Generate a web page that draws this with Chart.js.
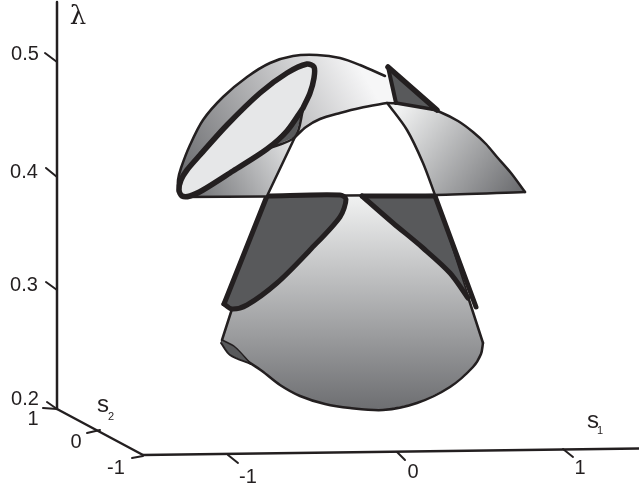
<!DOCTYPE html>
<html lang="en">
<head>
<meta charset="UTF-8">
<title>Bifurcation surface</title>
<script src="https://cdn.jsdelivr.net/npm/chart.js"></script>
<style>
    html, body { margin: 0; padding: 0; background: #fff; }
    canvas { display: block; }
</style>
</head>
<body>
<canvas id="surfaceChart" width="639" height="487"></canvas>
<script>
const lambdaAxis = [[57, 2], [57, 409]];
const s2Axis = [[57, 409], [143, 455]];
const s1Axis = [[143, 455], [639, 448.5]];

const lambdaTicks = [[[45, 53], [57, 62]], [[46, 168], [57, 177]], [[46, 282], [57, 290]], [[47, 402], [57, 409]]];
const s2Ticks = [[[43, 408], [57, 409]], [[87, 433], [100, 430]], [[132, 458], [143, 456]]];
const s1Ticks = [[[228, 455], [238, 463]], [[397, 452], [405, 460]], [[563, 449], [573, 457]]];

const lambdaTickLabels = ['0.5', '0.4', '0.3', '0.2'];
const lambdaLabelAt = [[25, 54], [24, 172], [24, 285], [25, 399]];
const s2TickLabels = ['1', '0', '-1'];
const s2LabelAt = [[33, 419], [76, 442], [116, 468]];
const s1TickLabels = ['-1', '0', '1'];
const s1LabelAt = [[248, 477], [413, 472], [580, 468]];

const topArc = [[178, 192], [178, 180], [181, 168], [190, 145], [203, 120], [223, 97], [247, 77], [270, 63], [293, 56], [317, 55], [340, 58], [360, 65], [385, 76]];
const topLowerEdge = [[295, 137], [306, 127], [320, 119], [340, 113], [360, 108], [387, 103]];
const topRightEdge = [[387, 103], [407, 104], [425, 107], [440, 112], [458, 121], [473, 132], [486, 144], [497, 157], [511, 173], [525, 192]];
const wingInnerEdge = [[435, 195], [423, 163], [407, 130], [388, 104]];
const bandRightEdge = [[295, 137], [267, 196]];
const horizon = [[183, 197], [267, 196.5], [345, 195.5], [435, 195], [525, 192]];

const ellipseLoop = [[303, 108], [287, 131], [267, 149], [233, 171], [203, 190], [190, 196], [182, 196], [179, 190], [181, 180], [187, 170], [200, 155], [227, 125], [260, 93], [287, 73], [307, 64], [314, 67], [314, 78], [310, 93], [303, 108]];
const wedgeEdge = [[303, 110], [295, 137], [267, 149]];

const notchLeft = [[388, 67], [396, 103]];
const notchRight = [[388, 67], [437, 110]];
const notchBottom = [[396, 103], [437, 110]];
const bandToNotch = [[395, 103], [390, 76]];

const coneLeft = [[268, 197], [222, 340]];
const coneBottom = [[222, 341], [240, 356], [262, 371], [280, 385], [300, 396], [325, 404], [350, 408], [383, 410], [417, 403], [450, 387], [473, 367], [481, 354], [483, 343]];
const coneRight = [[483, 343], [435, 195]];

const spotUpper = [[222, 340], [235, 347], [251, 364]];
const spotLower = [[221, 343], [230, 355], [251, 364]];

const leftPatchTop = [[267, 196], [340, 195], [346, 199], [340, 217], [310, 250], [277, 283], [247, 305], [232, 309], [224, 304]];
const leftPatchSide = [[224, 304], [267, 196]];
const rightPatchTop = [[362, 196], [435, 196]];
const rightPatchSide = [[435, 196], [476, 307]];
const rightPatchCurve = [[362, 196], [393, 223], [423, 248], [450, 273], [468, 298]];

const INK = '#231f20';
const DARK = '#58595b';
const THIN = 2.5;
const THICK = 5;

const datasets = [];

function toPoints(list) {
    return list.map(p => ({x: p[0], y: p[1]}));
}

function addEdge(list, width) {
    datasets.push({
        data: toPoints(list),
        borderColor: INK,
        borderWidth: width,
        borderCapStyle: 'round',
        borderJoinStyle: 'round',
        tension: list.length > 2 ? 0.3 : 0,
        fill: false
    });
}

function addFill(edges, color) {
    datasets.push({
        data: toPoints(edges.flat()),
        borderWidth: 0,
        borderColor: 'transparent',
        backgroundColor: color,
        tension: 0,
        fill: 'shape'
    });
}

// diagonal shading, ends given in plot units
function shade(a, b, stops) {
    return ctx => {
        const {chart} = ctx;
        const xs = chart.scales.x, ys = chart.scales.y;
        if (!xs || !ys) return stops[0];
        const ends = [xs.getPixelForValue(a[0]), ys.getPixelForValue(a[1]), xs.getPixelForValue(b[0]), ys.getPixelForValue(b[1])];
        if (!ends.every(Number.isFinite)) return stops[0];
        const g = chart.ctx.createLinearGradient(ends[0], ends[1], ends[2], ends[3]);
        stops.forEach((c, i) => g.addColorStop(i / (stops.length - 1), c));
        return g;
    };
}

// lower cone
addFill([coneLeft, coneBottom, coneRight], shade([0, 195], [0, 410], ['#f1f2f2', '#6d6e71']));
addEdge(coneLeft, THIN);
addEdge(coneBottom, THIN);
addEdge(coneRight, THIN);

addFill([spotUpper, spotLower.slice().reverse()], DARK);
addEdge(spotUpper, 1.5);
addEdge(spotLower, 2);

addFill([leftPatchTop, leftPatchSide], DARK);
addEdge(leftPatchTop, THICK);
addEdge(leftPatchSide, THICK);

addFill([rightPatchTop, rightPatchSide.slice(0, 1), rightPatchCurve.slice().reverse()], DARK);
addEdge(rightPatchTop, THICK);
addEdge(rightPatchSide, THICK);
addEdge(rightPatchCurve, THICK);

// upper surface
addFill([topArc, bandToNotch.slice().reverse(), topLowerEdge.slice().reverse(), ellipseLoop.slice(2, 8)], shade([190, 190], [370, 85], ['#6d6e71', '#f6f6f7']));
addEdge(topArc, THIN);
addEdge(topLowerEdge, THIN);

addFill([ellipseLoop.slice(1, 6), [[267, 196]], bandRightEdge.slice(0, 1)], shade([190, 198], [295, 140], ['#6d6e71', '#e6e7e8']));
addEdge(bandRightEdge, THIN);

addFill([topRightEdge, wingInnerEdge], shade([400, 108], [515, 195], ['#f1f2f2', '#6d6e71']));
addEdge(topRightEdge, THIN);
addEdge(wingInnerEdge, THIN);

addFill([ellipseLoop], '#e6e7e8');
addFill([wedgeEdge], DARK);
addEdge(wedgeEdge, THIN);
addEdge(ellipseLoop, 5.5);

addFill([notchLeft, notchBottom.slice(1)], DARK);
addEdge(notchLeft, 4);
addEdge(notchRight, 5.5);
addEdge(notchBottom, THIN + 1);

addEdge(horizon, THIN);

// axes
addEdge(lambdaAxis, 2.5);
addEdge(s2Axis, 2.5);
addEdge(s1Axis, 2.5);
lambdaTicks.concat(s2Ticks, s1Ticks).forEach(t => addEdge(t, 2));

// later entries have to paint on top
datasets.forEach((d, i) => { d.order = -i; });

const axisText = {
    id: 'axisText',
    afterDraw(chart) {
        const {ctx, scales} = chart;
        const put = (text, at, font) => {
            ctx.font = font;
            ctx.fillText(text, scales.x.getPixelForValue(at[0]), scales.y.getPixelForValue(at[1]));
        };
        ctx.save();
        ctx.fillStyle = INK;
        ctx.textAlign = 'center';
        ctx.textBaseline = 'middle';
        const tickFont = '20px "Liberation Sans"';
        lambdaTickLabels.forEach((t, i) => put(t, lambdaLabelAt[i], tickFont));
        s2TickLabels.forEach((t, i) => put(t, s2LabelAt[i], tickFont));
        s1TickLabels.forEach((t, i) => put(t, s1LabelAt[i], tickFont));
        put('λ', [78, 17], '26px "DejaVu Serif"');
        put('s', [103, 405], '24px "Liberation Sans"');
        put('2', [111, 417], '11px "Liberation Sans"');
        put('s', [593, 421], '24px "Liberation Sans"');
        put('1', [600, 431], '11px "Liberation Sans"');
        ctx.restore();
    }
};

new Chart(document.getElementById('surfaceChart'), {
    type: 'scatter',
    data: {datasets},
    options: {
        responsive: false,
        animation: false,
        showLine: true,
        elements: {point: {radius: 0}},
        layout: {padding: 0},
        plugins: {legend: {display: false}, tooltip: {enabled: false}},
        scales: {
            x: {type: 'linear', display: false, min: 0, max: 639},
            y: {type: 'linear', display: false, min: 0, max: 487, reverse: true}
        }
    },
    plugins: [axisText]
});
</script>
</body>
</html>
